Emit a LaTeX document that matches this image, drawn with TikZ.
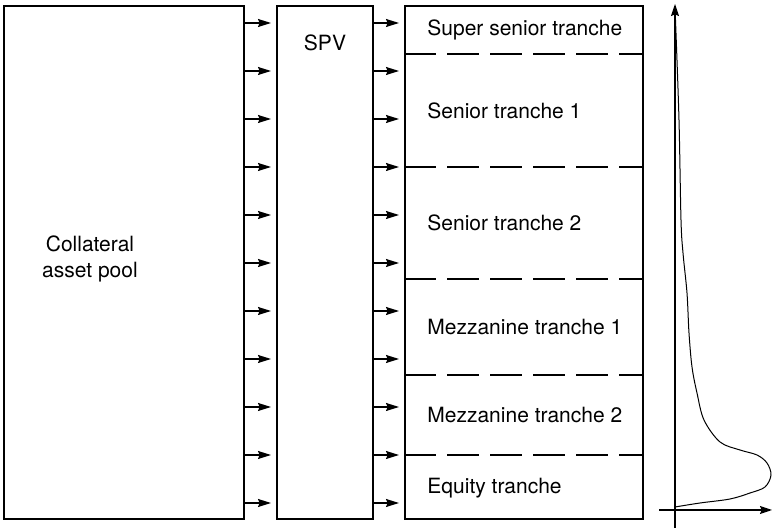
\documentclass[tikz,border=0pt]{standalone}
\usepackage{fontspec}
\setmainfont{TeX Gyre Heros}
\usetikzlibrary{positioning, arrows.meta}

\begin{document}
\begin{tikzpicture}[
      x=0.5pt, y=-0.5pt,
      every node/.style={font=\fontsize{10.5}{12.6}\selectfont, inner sep=0pt},
      box/.style={draw, line width=1pt, minimum height=256.5pt},
      flow/.style={-{Stealth[length=6.5pt, width=4pt, inset=0.8pt]}, line width=0.65pt},
      cut/.style={line width=0.6pt, dash pattern=on 16pt off 5.5pt},
      axis/.style={-{Stealth[length=6pt, width=4pt, inset=0.8pt]}, line width=0.6pt},
    ]
    \useasboundingbox (0,0) rectangle (772,528);

    % the three blocks
    \node[box, minimum width=120pt]   (pool) at (124, 262.5) {};
    \node[box, minimum width=48pt]    (spv)  at (325, 262.5) {};
    \node[box, minimum width=119pt]   (tr)   at (524, 262.5) {};

    \node[align=center] (poollbl) at (90, 259) {Collateral\\asset pool};
    \node (spvlbl) at (325, 43) {SPV};

    % cash flows
    \foreach \y in {23, 71, ..., 503} {
      \draw[flow, shorten >=2.5pt] (pool.east |- 0,\y) -- (spv.west |- 0,\y);
      \draw[flow, shorten >=2.5pt] (spv.east |- 0,\y) -- (tr.west |- 0,\y);
    }

    % tranche boundaries
    \foreach \y in {54, 167, 279, 375, 455}
      \draw[cut] (tr.west |- 0,\y) -- (tr.east |- 0,\y);

    \node[anchor=west] (t1) at (427, 30)  {Super senior tranche};
    \node[anchor=west] (t2) at (427, 111) {Senior tranche 1};
    \node[anchor=west] (t3) at (427, 223) {Senior tranche 2};
    \node[anchor=west] (t4) at (427, 327) {Mezzanine tranche 1};
    \node[anchor=west] (t5) at (427, 415) {Mezzanine tranche 2};
    \node[anchor=west] (t6) at (427, 488) {Equity tranche};

    % loss distribution
    \coordinate (ybot) at (675, 528);
    \coordinate (ytop) at (675, 4);
    \coordinate (xl)   at (659, 510);
    \coordinate (xr)   at (772, 510);
    \draw[axis] (ybot) -- (ytop);
    \draw[axis] (xl) -- (xr);
    \draw[line width=0.5pt] plot[smooth, tension=0.55] coordinates {
      (675.5,20) (679,120) (681,220) (683,253) (687,293) (689,333)
      (692,367) (697,393) (704,420) (720,442) (740,450) (757,455)
      (767,463) (771,475) (765,487) (750,493) (730,499) (700,503) (675,507)
    };
  \end{tikzpicture}
\end{document}
